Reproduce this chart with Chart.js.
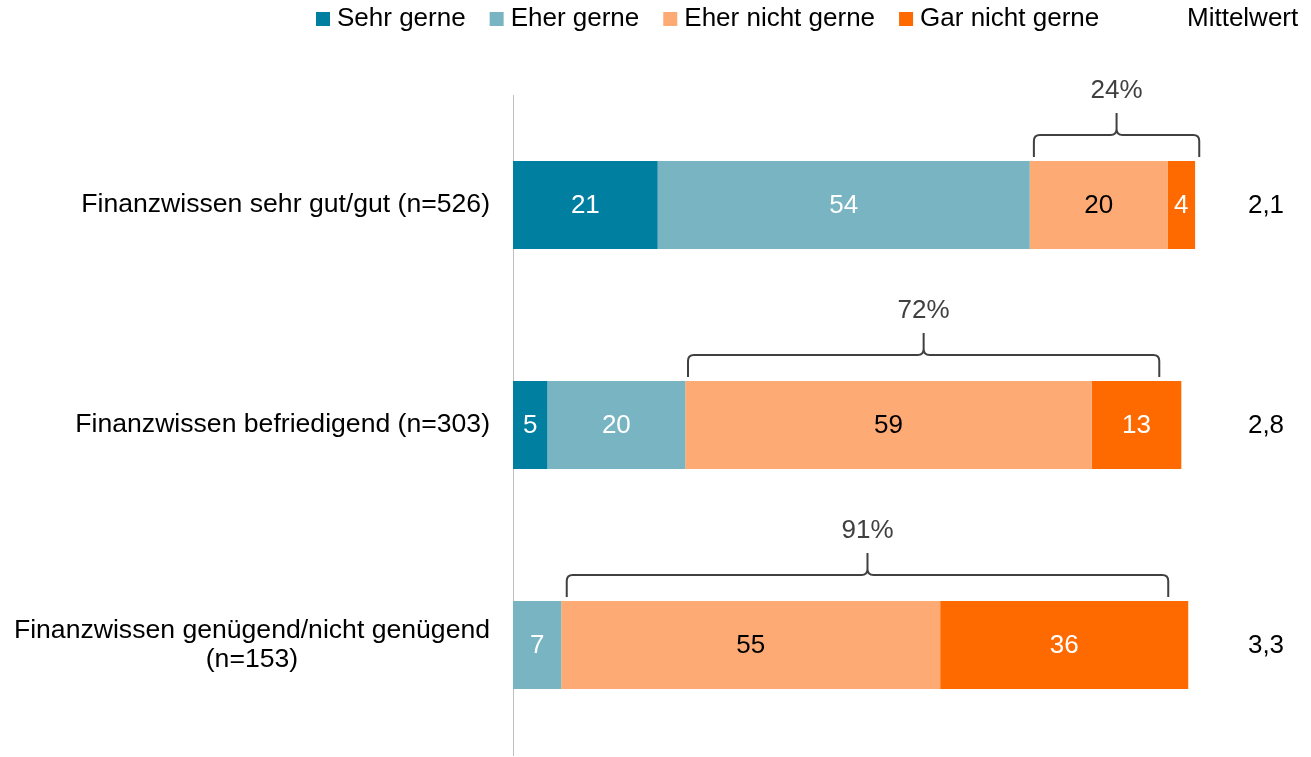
<!DOCTYPE html>
<html lang="de">
<head>
<meta charset="utf-8">
<title>Finanzwissen</title>
<script src="https://cdn.jsdelivr.net/npm/chart.js@4.4.1/dist/chart.umd.min.js"></script>
<style>
  html, body { margin: 0; padding: 0; background: #ffffff; }
  #wrap { width: 1311px; height: 757px; position: relative; }
</style>
</head>
<body>
<div id="wrap"><canvas id="chart"></canvas></div>
<script>
// --- Daten ---
const kategorien = [
  'Finanzwissen sehr gut/gut (n=526)',
  'Finanzwissen befriedigend (n=303)',
  ['Finanzwissen genügend/nicht genügend', '(n=153)']
];
const serienNamen = ['Sehr gerne', 'Eher gerne', 'Eher nicht gerne', 'Gar nicht gerne'];
const sehrGerne = [21, 5, 0];
const eherGerne = [54, 20, 7];
const eherNichtGerne = [20, 59, 55];
const garNichtGerne = [4, 13, 36];
const mittelwerte = ['2,1', '2,8', '3,3'];
const klammerTexte = ['24%', '72%', '91%'];
const klammerVon = [75.6, 25.4, 7.8];
const klammerBis = [99.6, 93.8, 95.1];

const farben = ['#007fa0', '#79b4c2', '#fdaa74', '#ff6a00'];
const textFarben = ['#ffffff', '#ffffff', '#000000', '#ffffff'];
const SCHRIFT = '"Liberation Sans", Arial, sans-serif';

const werte = [sehrGerne, eherGerne, eherNichtGerne, garNichtGerne];

// Plugin: Legende, Kategorien, Segmentwerte, Klammern, Mittelwerte
const beschriftung = {
  id: 'beschriftung',
  afterDatasetsDraw(chart) {
    const ctx = chart.ctx;
    const xs = chart.scales.x;
    const ys = chart.scales.y;
    ctx.save();
    ctx.font = '26px ' + SCHRIFT;
    ctx.textBaseline = 'middle';

    // Legende
    let lx = 316;
    serienNamen.forEach((name, i) => {
      ctx.fillStyle = farben[i];
      ctx.fillRect(lx, 12, 14, 14);
      ctx.fillStyle = '#000000';
      ctx.textAlign = 'left';
      ctx.fillText(name, lx + 21, 19);
      lx += 21 + ctx.measureText(name).width + 24;
    });
    ctx.fillText('Mittelwert', 1187, 19);

    // Kategorien (rechtsbündig, mehrzeilig zentriert)
    ctx.font = '26.6px ' + SCHRIFT;
    kategorien.forEach((kat, i) => {
      const y = ys.getPixelForValue(i);
      const zeilen = Array.isArray(kat) ? kat : [kat];
      const breite = Math.max(...zeilen.map(z => ctx.measureText(z).width));
      const mitte = 490 - breite / 2;
      ctx.fillStyle = '#000000';
      ctx.textAlign = 'center';
      zeilen.forEach((z, k) => {
        ctx.fillText(z, mitte, y + (k - (zeilen.length - 1) / 2) * 29);
      });
    });
    ctx.font = '26px ' + SCHRIFT;

    // Segmentwerte
    chart.data.datasets.forEach((ds, di) => {
      const meta = chart.getDatasetMeta(di);
      meta.data.forEach((el, i) => {
        if (!ds.data[i]) return;
        ctx.fillStyle = textFarben[di];
        ctx.textAlign = 'center';
        ctx.fillText(String(ds.data[i]), (el.x + el.base) / 2, el.y + 1);
      });
    });

    // Klammern
    const r = 6;
    ctx.strokeStyle = '#404040';
    ctx.lineWidth = 2;
    klammerTexte.forEach((txt, i) => {
      const el = chart.getDatasetMeta(0).data[i];
      const oben = el.y - el.height / 2;
      const x1 = xs.getPixelForValue(klammerVon[i]);
      const x2 = xs.getPixelForValue(klammerBis[i]);
      const xm = (x1 + x2) / 2;
      const yEnde = oben - 4;
      const yH = oben - 26;
      const ySpitze = oben - 48;
      ctx.beginPath();
      ctx.moveTo(x1, yEnde);
      ctx.lineTo(x1, yH + r);
      ctx.quadraticCurveTo(x1, yH, x1 + r, yH);
      ctx.lineTo(xm - r, yH);
      ctx.quadraticCurveTo(xm, yH, xm, yH - r);
      ctx.lineTo(xm, ySpitze);
      ctx.moveTo(xm, yH - r);
      ctx.quadraticCurveTo(xm, yH, xm + r, yH);
      ctx.lineTo(x2 - r, yH);
      ctx.quadraticCurveTo(x2, yH, x2, yH + r);
      ctx.lineTo(x2, yEnde);
      ctx.stroke();
      ctx.fillStyle = '#404040';
      ctx.textAlign = 'center';
      ctx.fillText(txt, xm, oben - 70);
    });

    // Mittelwerte
    mittelwerte.forEach((mw, i) => {
      ctx.fillStyle = '#000000';
      ctx.textAlign = 'center';
      ctx.fillText(mw, 1266, ys.getPixelForValue(i) + 1);
    });
    ctx.restore();
  }
};

new Chart(document.getElementById('chart'), {
  type: 'bar',
  data: {
    labels: kategorien,
    datasets: serienNamen.map((name, i) => ({
      label: name,
      data: werte[i],
      backgroundColor: farben[i],
      borderWidth: 0,
      barPercentage: 0.4,
      categoryPercentage: 1
    }))
  },
  options: {
    indexAxis: 'y',
    responsive: true,
    maintainAspectRatio: false,
    animation: false,
    layout: { padding: { left: 505, right: 109, top: 95, bottom: 2 } },
    scales: {
      x: { stacked: true, min: 0, max: 100, display: false },
      y: {
        stacked: true,
        grid: { display: false },
        ticks: { display: false },
        border: { display: true, color: '#bfbfbf', width: 1 }
      }
    },
    plugins: {
      legend: { display: false },
      tooltip: { enabled: false }
    }
  },
  plugins: [beschriftung]
});
</script>
</body>
</html>
